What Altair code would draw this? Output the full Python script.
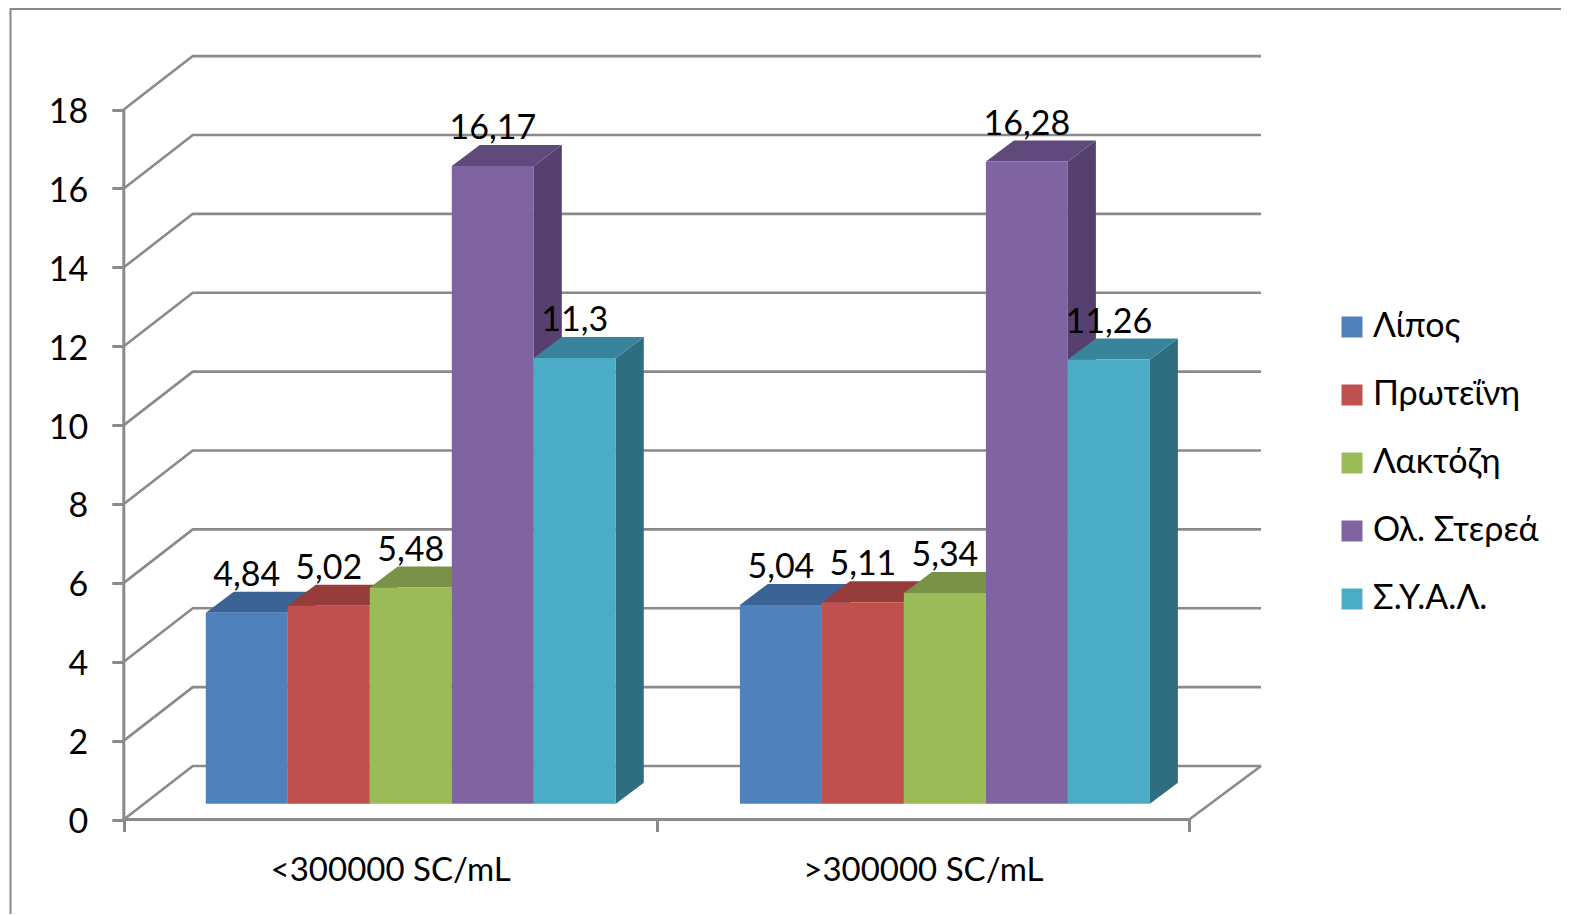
import altair as alt
import pandas as pd

groups = ["<300000 SC/mL", ">300000 SC/mL"]
series = ["Λίπος", "Πρωτεΐνη", "Λακτόζη", "Ολ. Στερεά", "Σ.Υ.Α.Λ."]
values_low = [4.84, 5.02, 5.48, 16.17, 11.3]
values_high = [5.04, 5.11, 5.34, 16.28, 11.26]
y_ticks = [0, 2, 4, 6, 8, 10, 12, 14, 16, 18]

front_colors = ["#4F81BD", "#C0504D", "#9BBB59", "#8064A2", "#4BACC6"]
top_colors = ["#3B6395", "#963D3B", "#7A9247", "#5F4A7B", "#38849A"]
side_colors = ["#345880", "#843532", "#6A7F3D", "#56406F", "#2F6E80"]

FONT = "Lato"
GREY = "#8A8A8A"
ORIGIN_X, ORIGIN_Y = 123.8, 819.5
PX_X = 532.7            # pixels per category
PX_Y = 39.44            # pixels per value unit
WALL_X, WALL_Y = 69 / PX_X, 53.5 / PX_Y
DEPTH_X, DEPTH_Y = 28 / PX_X, 21 / PX_Y
BASE_Y = 15.8 / PX_Y
BAR_W = 82 / PX_X
GROUP_SHIFT = 1.4 / PX_X
WALL_END = (1261 - ORIGIN_X) / PX_X

W, H = 1553, 906
x_scale = alt.Scale(domain=[(8 - ORIGIN_X) / PX_X, (8 + W - ORIGIN_X) / PX_X], nice=False, zero=False)
y_scale = alt.Scale(domain=[(ORIGIN_Y - 8 - H) / PX_Y, (ORIGIN_Y - 8) / PX_Y], nice=False, zero=False)

grid_rows = []
for t in y_ticks:
    grid_rows += [
        dict(k=t, x=0, y=t),
        dict(k=t, x=WALL_X, y=t + WALL_Y),
        dict(k=t, x=WALL_END, y=t + WALL_Y),
    ]
grid_rows += [dict(k=-1, x=2, y=0), dict(k=-1, x=WALL_END, y=WALL_Y)]
grid = pd.DataFrame(grid_rows)

face_rows, front_rows, label_rows = [], [], []
for g, (name, vals) in enumerate(zip(groups, [values_low, values_high])):
    for s, v in enumerate(vals):
        x0 = g + g * GROUP_SHIFT + BAR_W * (1 + s)
        x1 = x0 + BAR_W
        top = BASE_Y + v
        fid = f"{g}-{s}"
        face_rows += [
            dict(face=f"{fid}-a", fill=side_colors[s], x=x1, lo=BASE_Y, hi=top),
            dict(face=f"{fid}-a", fill=side_colors[s], x=x1 + DEPTH_X, lo=BASE_Y + DEPTH_Y, hi=top + DEPTH_Y),
            dict(face=f"{fid}-b", fill=top_colors[s], x=x0, lo=top, hi=top),
            dict(face=f"{fid}-b", fill=top_colors[s], x=x0 + DEPTH_X, lo=top, hi=top + DEPTH_Y),
            dict(face=f"{fid}-b", fill=top_colors[s], x=x1, lo=top, hi=top + DEPTH_Y),
            dict(face=f"{fid}-b", fill=top_colors[s], x=x1 + DEPTH_X, lo=top + DEPTH_Y, hi=top + DEPTH_Y),
        ]
        front_rows.append(dict(series=series[s], x0=x0, x1=x1, y0=BASE_Y, y1=top))
        label_rows.append(dict(x=(x0 + x1) / 2, y=top + DEPTH_Y, text=str(v).replace(".", ",")))
faces = pd.DataFrame(face_rows)
fronts = pd.DataFrame(front_rows)
labels = pd.DataFrame(label_rows)

label_expr = f"datum.value === 0.5 ? '{groups[0]}' : datum.value === 1.5 ? '{groups[1]}' : ''"
x_axis = alt.Axis(
    values=[0, 0.5, 1, 1.5, 2], labelExpr=label_expr, title=None, grid=False, domain=False,
    offset=-(H - (ORIGIN_Y - 8)), tickSize=12, tickWidth=3, tickColor=GREY,
    tickOpacity={"condition": {"test": "datum.value % 1 === 0", "value": 1}, "value": 0},
    labelFont=FONT, labelFontSize=33, labelColor="#000000", labelPadding=23,
    labelOverlap=False, labelFlush=False, labelLimit=500,
)
y_axis = alt.Axis(
    values=y_ticks, format="d", title=None, grid=False, domain=False,
    offset=-(ORIGIN_X - 8), tickSize=12, tickWidth=3, tickColor=GREY,
    labelFont=FONT, labelFontSize=34, labelColor="#000000", labelPadding=24, labelOffset=3,
    labelOverlap=False, labelFlush=False,
)

gridlines = alt.Chart(grid).mark_line(color=GREY, strokeWidth=2.6).encode(
    x=alt.X("x:Q", scale=x_scale, axis=x_axis),
    y=alt.Y("y:Q", scale=y_scale, axis=y_axis),
    detail="k:N",
)

axis_lines = alt.Chart(pd.DataFrame({"x": [0, 0], "y": [0, y_ticks[-1]]})).mark_line(
    color=GREY, strokeWidth=3
).encode(x=alt.X("x:Q", scale=x_scale), y=alt.Y("y:Q", scale=y_scale))
base_line = alt.Chart(pd.DataFrame({"x": [0, 2], "y": [0, 0]})).mark_line(
    color=GREY, strokeWidth=3
).encode(x=alt.X("x:Q", scale=x_scale), y=alt.Y("y:Q", scale=y_scale))

frame_left = alt.Chart(pd.DataFrame({"a": [0]})).mark_rule(color=GREY, strokeWidth=2).encode(
    x=alt.value(2.5), y=alt.value(0), y2=alt.value(H)
)
frame_top = alt.Chart(pd.DataFrame({"a": [0]})).mark_rule(color=GREY, strokeWidth=2).encode(
    x=alt.value(2.5), x2=alt.value(W), y=alt.value(1)
)

depth_faces = alt.Chart(faces).mark_area(orient="vertical", interpolate="linear").encode(
    x=alt.X("x:Q", scale=x_scale),
    y=alt.Y("lo:Q", scale=y_scale),
    y2="hi:Q",
    fill=alt.Fill("fill:N", scale=None),
    detail="face:N",
)

front_faces = alt.Chart(fronts).mark_rect().encode(
    x=alt.X("x0:Q", scale=x_scale),
    x2="x1:Q",
    y=alt.Y("y0:Q", scale=y_scale),
    y2="y1:Q",
    color=alt.Color(
        "series:N",
        scale=alt.Scale(domain=series, range=front_colors),
        sort=series,
        legend=alt.Legend(
            title=None, orient="none", legendX=1327, legendY=302, padding=0,
            symbolType="square", symbolSize=441, symbolStrokeWidth=0, symbolOpacity=1,
            labelFont=FONT, labelFontSize=34, labelColor="#000000", labelOffset=4,
            rowPadding=34, labelLimit=300,
        ),
    ),
)

value_labels = alt.Chart(labels).mark_text(
    font=FONT, fontSize=34, color="#000000", align="center", baseline="alphabetic", dy=-6
).encode(
    x=alt.X("x:Q", scale=x_scale),
    y=alt.Y("y:Q", scale=y_scale),
    text="text:N",
)

chart = alt.layer(
    gridlines, axis_lines, base_line, frame_left, frame_top, depth_faces, front_faces, value_labels
).properties(
    width=W, height=H, padding=0, background="#FFFFFF",
    autosize=alt.AutoSizeParams(type="none"),
).configure_view(stroke=None)

chart.save("out.html", embed_options={"renderer": "svg", "actions": False})
